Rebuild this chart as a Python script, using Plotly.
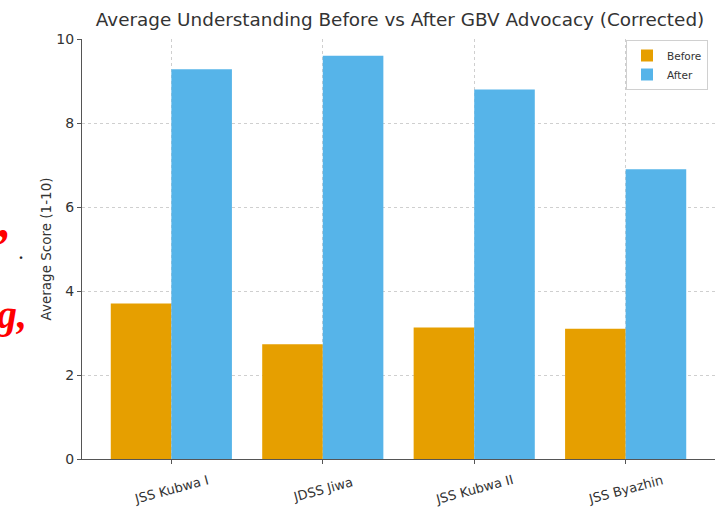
import plotly.graph_objects as go

categories = ["JSS Kubwa I", "JDSS Jiwa", "JSS Kubwa II", "JSS Byazhin"]
before_scores = [3.7, 2.73, 3.13, 3.1]
after_scores = [9.28, 9.6, 8.8, 6.9]
y_ticks = [0, 2, 4, 6, 8, 10]

W, H = 718, 521
L, R, T, B = 82, 3, 39, 62
PW, PH = W - L - R, H - T - B


def px(x):
    return (x - L) / PW


def py(y):
    return (H - B - y) / PH


fig = go.Figure()
fig.add_trace(go.Bar(x=categories, y=before_scores, name="Before",
                     marker=dict(color="#E69F00", line=dict(width=0))))
fig.add_trace(go.Bar(x=categories, y=after_scores, name="After",
                     marker=dict(color="#56B4E9", line=dict(width=0))))

font = "DejaVu Sans, Verdana, sans-serif"
fig.update_layout(
    width=W, height=H,
    margin=dict(l=L, r=R, t=T, b=B, autoexpand=False),
    paper_bgcolor="white", plot_bgcolor="white",
    barmode="group", bargap=0.2, bargroupgap=0,
    font=dict(family=font, color="#333333", size=13),
    title=dict(text="Average Understanding Before vs After GBV Advocacy (Corrected)",
               xref="container", x=400 / W, xanchor="center",
               yref="container", y=1 - 20 / H, yanchor="middle",
               font=dict(size=18.4, color="#333333", family=font)),
    legend=dict(x=px(708), y=py(40), xanchor="right", yanchor="top",
                bgcolor="rgba(255,255,255,0.9)", bordercolor="#d0d0d0", borderwidth=1,
                font=dict(size=10.5, color="#333333"),
                tracegroupgap=0),
    xaxis=dict(range=[-0.59, 3.59], showline=True, linecolor="#555555", linewidth=1.2,
               ticks="outside", ticklen=4, tickcolor="#555555", showticklabels=False,
               showgrid=True, gridcolor="#cfcfcf", griddash="dot", gridwidth=1,
               zeroline=False, automargin=False),
    yaxis=dict(range=[0, 10], tickvals=y_ticks, showline=True, linecolor="#555555",
               linewidth=1.2, ticks="outside", ticklen=4, tickcolor="#555555",
               showgrid=True, gridcolor="#cfcfcf", griddash="dot", gridwidth=1,
               zeroline=False, tickfont=dict(size=14, color="#333333"), automargin=False,
               title=dict(text="Average Score (1-10)", standoff=1,
                          font=dict(size=13.5, color="#333333"))),
)

# rotated category labels, centred under each tick
for cat in categories:
    fig.add_annotation(text=cat, xref="x", yref="paper", x=cat, y=py(489),
                       xanchor="center", yanchor="middle", showarrow=False,
                       textangle=-15, font=dict(size=13, color="#333333", family=font))

# cropped red text fragments at the left edge of the screenshot
fig.add_annotation(text="<b><i>\u2019</i></b>", xref="paper", yref="paper", x=px(11), y=py(245),
                   xanchor="right", yanchor="middle", showarrow=False,
                   font=dict(family="Liberation Serif", size=48, color="#ff0000"))
fig.add_annotation(text="<b>.</b>", xref="paper", yref="paper", x=px(21), y=py(253),
                   xanchor="center", yanchor="middle", showarrow=False,
                   font=dict(family="Liberation Serif", size=16, color="#222222"))
fig.add_annotation(text="<b><i>g,</i></b>", xref="paper", yref="paper", x=px(-6), y=py(314),
                   xanchor="left", yanchor="middle", showarrow=False,
                   font=dict(family="Liberation Serif", size=40, color="#ff0000"))

fig.write_html("out.html", config={"displayModeBar": False},
               post_script="document.body.style.margin='0';document.body.style.overflow='hidden';")
